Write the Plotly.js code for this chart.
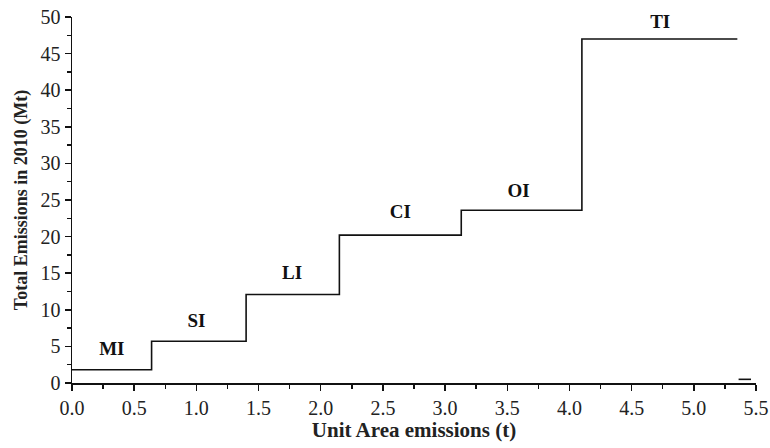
<!DOCTYPE html>
<html><head><meta charset="utf-8">
<script src="https://cdn.plot.ly/plotly-3.0.1.min.js"></script>
<style>html,body{margin:0;padding:0;background:#fff}#chart{width:770px;height:448px}</style>
</head><body><div id="chart"></div>
<script>
const categories = ["MI","SI","LI","CI","OI","TI"];
const stepStart = [0, 0.64, 1.40, 2.15, 3.13, 4.10];
const stepEnd = [0.64, 1.40, 2.15, 3.13, 4.10, 5.35];
const totalEmissions = [1.8, 5.7, 12.1, 20.2, 23.6, 47.0];
const labelX = [0.32, 1.0, 1.77, 2.64, 3.59, 4.73];
const labelY = [4.5, 8.3, 14.9, 23.2, 26.0, 49.2];
const strayX = [5.36, 5.46];
const strayY = [0.5, 0.5];

const xs = stepStart.concat([stepEnd[stepEnd.length-1]]);
const ys = totalEmissions.concat([totalEmissions[totalEmissions.length-1]]);
const serif = 'Liberation Serif';

const traces = [
  {x: xs, y: ys, mode: 'lines', line: {shape: 'hv', color: '#111', width: 1.6}, hoverinfo: 'skip'},
  {x: strayX, y: strayY, mode: 'lines', line: {color: '#111', width: 1.6}, hoverinfo: 'skip'},
  {x: labelX, y: labelY, mode: 'text', text: categories, textposition: 'middle center', cliponaxis: false,
   textfont: {family: serif, size: 19, color: '#111', weight: 'bold'}, hoverinfo: 'skip'}
];

const axisFont = {family: serif, size: 20, color: '#222'};
const layout = {
  width: 770, height: 448,
  margin: {l: 72, r: 14, t: 17, b: 65},
  showlegend: false,
  paper_bgcolor: '#fff', plot_bgcolor: '#fff',
  xaxis: {
    range: [0, 5.5], dtick: 0.5, tick0: 0, tickformat: '.1f',
    showgrid: false, zeroline: false, showline: true, linecolor: '#111', linewidth: 1.5,
    ticks: 'outside', ticklen: 6, tickwidth: 1.5, tickcolor: '#111',
    minor: {ticks: 'outside', dtick: 0.25, ticklen: 4, tickwidth: 1.5, tickcolor: '#111', showgrid: false},
    tickfont: axisFont,
    title: {text: 'Unit Area emissions (t)', font: {family: serif, size: 21, color: '#222', weight: 'bold'}, standoff: 3}
  },
  yaxis: {
    range: [0, 50], dtick: 5, tick0: 0,
    showgrid: false, zeroline: false, showline: true, linecolor: '#111', linewidth: 1.5,
    ticks: 'outside', ticklen: 6, tickwidth: 1.5, tickcolor: '#111',
    minor: {ticks: 'outside', dtick: 2.5, ticklen: 4, tickwidth: 1.5, tickcolor: '#111', showgrid: false},
    tickfont: axisFont,
    title: {text: 'Total Emissions in 2010 (Mt)', font: {family: serif, size: 18, color: '#222', weight: 'bold'}, standoff: 8}
  }
};
Plotly.newPlot('chart', traces, layout, {displayModeBar: false, staticPlot: true});
</script></body></html>
